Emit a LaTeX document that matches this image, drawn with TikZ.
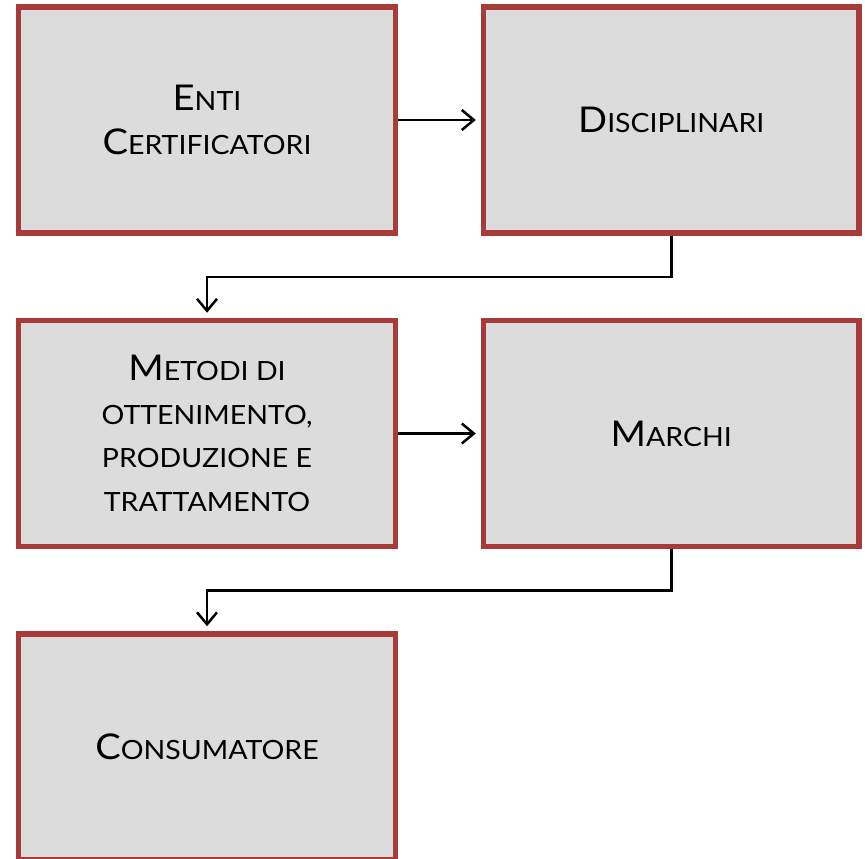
\documentclass[tikz,border=0pt]{standalone}
\usepackage{fontspec}
\setmainfont{Lato}[FakeStretch=1.075]
\usetikzlibrary{arrows.meta,calc}
\definecolor{boxred}{RGB}{168,58,58}
\definecolor{boxfill}{RGB}{220,220,220}
\newcommand\Cap[1]{{\fontsize{35.5}{43.5}\selectfont #1}}
\begin{document}
\begin{tikzpicture}[x=1pt,y=-1pt,
  box/.style={draw=boxred,fill=boxfill,line width=5.5pt,minimum width=377pt,minimum height=226pt,
    align=center,inner sep=0pt,font=\fontsize{26.5}{43.5}\selectfont},
  arr/.style={line width=2.5pt,-{Straight Barb[length=12pt,width=20pt,line width=2.5pt]},shorten >=5pt}]
\useasboundingbox (0,0) rectangle (865,859);
\node[box] (b1) at (207,120) {\Cap{E}NTI\\\Cap{C}ERTIFICATORI};
\node[box,minimum width=375.5pt] (b2) at (671.25,120) {\Cap{D}ISCIPLINARI};
\node[box] (b3) at (207,433.5) {\Cap{M}ETODI DI\\OTTENIMENTO,\\PRODUZIONE E\\TRATTAMENTO};
\node[box,minimum width=375.5pt] (b4) at (671.25,433.5) {\Cap{M}ARCHI};
\node[box] (b5) at (207,747) {\Cap{C}ONSUMATORE};
\draw[arr] (b1.east) -- (b2.west);
\draw[arr] (b3.east) -- (b4.west);
\draw[arr] (b2.south) |- ($(b2.south)!0.5!(b3.north)$) -| (b3.north);
\draw[arr] (b4.south) |- ($(b4.south)!0.5!(b5.north)$) -| (b5.north);
\end{tikzpicture}
\end{document}
